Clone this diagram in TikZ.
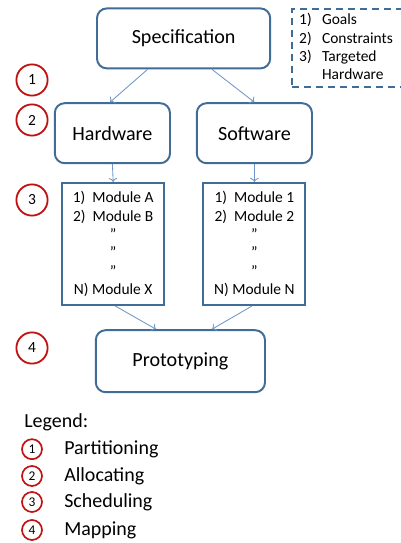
\documentclass[tikz,border=0pt]{standalone}
\usepackage{fontspec}
\setmainfont{Carlito}
\usepackage{tikz}
\definecolor{boxblue}{RGB}{65, 108, 150}
\definecolor{arrowblue}{RGB}{110, 150, 200}
\definecolor{markred}{RGB}{192, 20, 20}
\usetikzlibrary{arrows.meta, positioning, calc}

\begin{document}
\begin{tikzpicture}[
    stage/.style={draw=boxblue, line width=1.4pt, rounded corners=7pt,
                  minimum width=#1, minimum height=1.5cm, align=center,
                  font=\fontsize{14.3}{17}\selectfont},
    modules/.style={draw=boxblue, line width=1.4pt, minimum width=2.55cm,
                    minimum height=3.05cm, align=center,
                    font=\fontsize{11}{13}\selectfont},
    stepmark/.style={circle, draw=markred, line width=1.3pt, minimum size=0.78cm,
                 inner sep=0pt, font=\fontsize{11}{12}\selectfont},
    smallmark/.style={circle, draw=markred, line width=1.2pt, minimum size=0.5cm,
                      inner sep=0pt, font=\fontsize{9.5}{10}\selectfont},
    legendtext/.style={anchor=west, inner sep=0pt, font=\fontsize{14.2}{16}\selectfont},
    flow/.style={->, line width=0.6pt, arrowblue}
]
    \useasboundingbox (0,0) rectangle (10.025,-13.575);

    % Main stages
    \node[stage=4.33cm] (spec) at (4.59,-0.96) {Specification};
    \node[stage=2.88cm] (hw) at (2.81,-3.33) {Hardware};
    \node[stage=2.88cm] (sw) at (6.36,-3.33) {Software};
    \node[stage=4.23cm, minimum height=1.55cm] (proto) at (4.51,-9.03) {Prototyping};

    % Module lists
    \node[modules] (hwmods) at (2.83,-6.1) {
        1)~~Module A\\
        2)~~Module B\\
        ''\\
        ''\\
        ''\\
        N) Module X
    };
    \node[modules] (swmods) at (6.36,-6.1) {
        1)~~Module 1\\
        2)~~Module 2\\
        ''\\
        ''\\
        ''\\
        N) Module N
    };

    % Specification notes
    \node[draw=boxblue, line width=1.4pt, dash pattern=on 5pt off 3.5pt,
          anchor=north west, minimum width=2.9cm, minimum height=1.85cm,
          text width=2.6cm, inner xsep=5pt, align=left,
          font=\fontsize{11}{13}\selectfont] (notes) at (7.28,-0.2) {
        1)~~Goals\\
        2)~~Constraints\\
        3)~~Targeted\\
        \phantom{3)~~}Hardware
    };

    % Step markers
    \node[stepmark] (m1) at (0.8,-2.0) {1};
    \node[stepmark] (m2) at (0.8,-3.0) {2};
    \node[stepmark] (m3) at (0.8,-5.0) {3};
    \node[stepmark] (m4) at (0.8,-8.7) {4};

    % Arrows
    \draw[flow] ([xshift=-0.9cm]spec.south) -- ([xshift=-0.06cm]hw.north);
    \draw[flow] ([xshift=0.71cm]spec.south) -- (sw.north);
    \draw[flow] (hw.south) -- (hwmods.north);
    \draw[flow] (sw.south) -- (swmods.north);
    \draw[flow] ([xshift=0.05cm]hwmods.south) -- ([xshift=-0.61cm]proto.north);
    \draw[flow] ([xshift=-0.06cm]swmods.south) -- ([xshift=0.79cm]proto.north);

    % Legend
    \node[legendtext] (legend) at (0.6,-10.55) {Legend:};
    \node[smallmark] (l1) at (0.8,-11.23) {1};
    \node[smallmark] (l2) at (0.8,-11.9) {2};
    \node[smallmark] (l3) at (0.8,-12.55) {3};
    \node[smallmark] (l4) at (0.8,-13.25) {4};
    \node[legendtext] (t1) at (1.6,-11.23) {Partitioning};
    \node[legendtext] (t2) at (1.6,-11.9) {Allocating};
    \node[legendtext] (t3) at (1.6,-12.55) {Scheduling};
    \node[legendtext] (t4) at (1.6,-13.25) {Mapping};
\end{tikzpicture}
\end{document}
